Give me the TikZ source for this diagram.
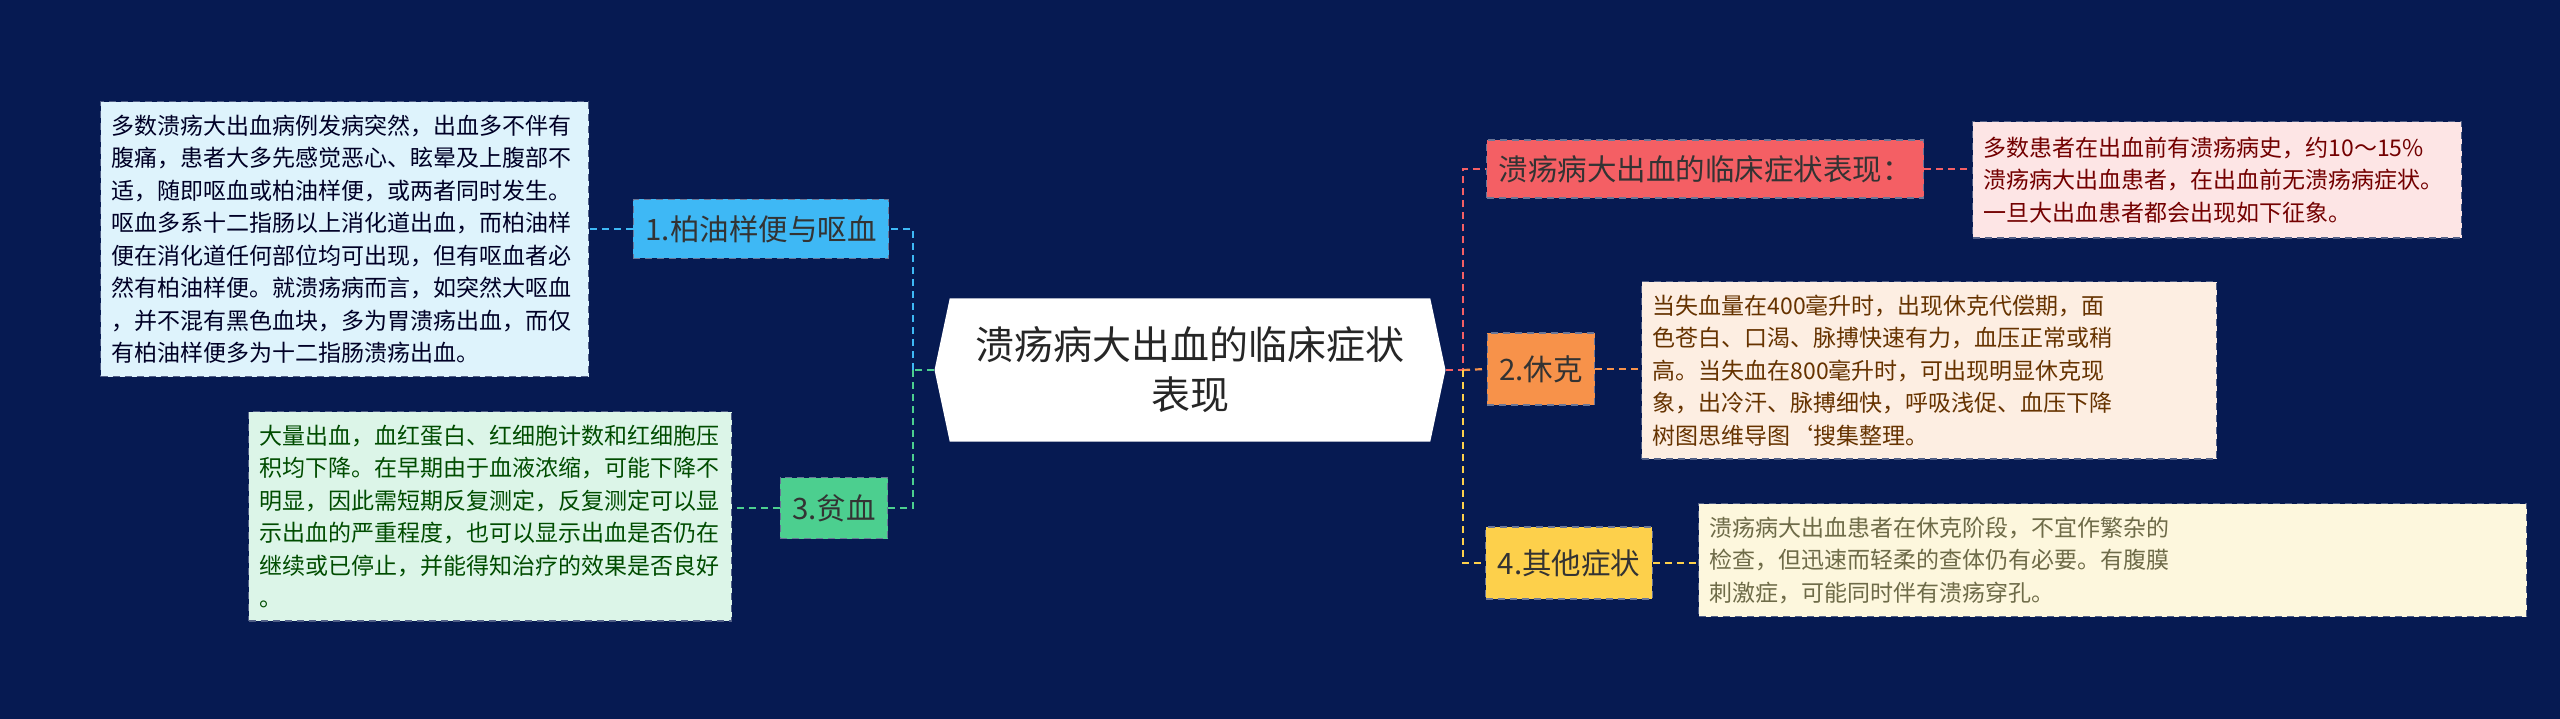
\documentclass[tikz,border=0pt]{standalone}
\usepackage{fontspec}
\setmainfont{Noto Sans CJK SC}
\usetikzlibrary{shapes.symbols}
\definecolor{bg}{RGB}{6,26,82}
\definecolor{cblue}{RGB}{62,184,245}
\definecolor{tblue}{RGB}{222,243,252}
\definecolor{cgreen}{RGB}{76,207,143}
\definecolor{tgreen}{RGB}{220,245,232}
\definecolor{cred}{RGB}{244,95,100}
\definecolor{tred}{RGB}{253,229,229}
\definecolor{corange}{RGB}{247,146,74}
\definecolor{torange}{RGB}{253,238,226}
\definecolor{cyellow}{RGB}{253,208,75}
\definecolor{tyellow}{RGB}{253,247,221}
\tikzset{
  x=1pt,y=1pt,
  dsh/.style={dash pattern=on 7pt off 5pt},
  topic/.style={draw=bg!60!white,dsh,line width=1.2pt,font=\fontsize{29.5}{34}\selectfont,inner xsep=12pt,inner ysep=10pt,text=black!80},
  note/.style={draw=bg!70!white,dsh,line width=1.2pt,font=\fontsize{23}{32.5}\selectfont,align=left,anchor=north west,inner xsep=11pt,inner ysep=13pt},
  link/.style={dsh,line width=2.2pt},
}
\begin{document}
\begin{tikzpicture}
\useasboundingbox[fill=bg] (0,0) rectangle (2560,-719);
\node[signal,signal to=west and east,signal pointer angle=156,fill=white,minimum width=511,minimum height=143,align=center,font=\fontsize{39}{50}\selectfont,inner xsep=20pt,text=black!85] (c) at (1190,-370) {溃疡病大出血的临床症状\\表现};
% left
\node[topic,fill=cblue,minimum height=59] (b1) at (761,-229) {1.柏油样便与呕血};
\node[note,fill=tblue,text=black!75!blue!60!black,text width=466] (n1) at (100,-101) {多数溃疡大出血病例发病突然，出血多不伴有\\腹痛，患者大多先感觉恶心、眩晕及上腹部不\\适，随即呕血或柏油样便，或两者同时发生。\\呕血多系十二指肠以上消化道出血，而柏油样\\便在消化道任何部位均可出现，但有呕血者必\\然有柏油样便。就溃疡病而言，如突然大呕血\\，并不混有黑色血块，多为胃溃疡出血，而仅\\有柏油样便多为十二指肠溃疡出血。};
\node[note,fill=tgreen,text=green!30!black,text width=461] (n3) at (248,-411) {大量出血，血红蛋白、红细胞计数和红细胞压\\积均下降。在早期由于血液浓缩，可能下降不\\明显，因此需短期反复测定，反复测定可以显\\示出血的严重程度，也可以显示出血是否仍在\\继续或已停止，并能得知治疗的效果是否良好\\。};
\node[topic,fill=cgreen,minimum height=61] (b3) at (834,-508) {3.贫血};
% right
\node[topic,fill=cred,minimum height=58] (r0) at (1705,-169) {溃疡病大出血的临床症状表现：};
\node[note,fill=tred,text=red!45!black,text width=467,inner ysep=15pt] (t0) at (1972,-121) {多数患者在出血前有溃疡病史，约10～15\%\\溃疡病大出血患者，在出血前无溃疡病症状。\\一旦大出血患者都会出现如下征象。};
\node[topic,fill=corange,minimum height=72] (r2) at (1541,-369) {2.休克};
\node[note,fill=torange,text=orange!40!black,text width=553] (t2) at (1641,-281) {当失血量在400毫升时，出现休克代偿期，面\\色苍白、口渴、脉搏快速有力，血压正常或稍\\高。当失血在800毫升时，可出现明显休克现\\象，出冷汗、脉搏细快，呼吸浅促、血压下降\\树图思维导图`搜集整理。};
\node[topic,fill=cyellow,minimum height=72] (r4) at (1569,-563) {4.其他症状};
\node[note,fill=tyellow,text=yellow!35!black,text width=806] (t4) at (1698,-503) {溃疡病大出血患者在休克阶段，不宜作繁杂的\\检查，但迅速而轻柔的查体仍有必要。有腹膜\\刺激症，可能同时伴有溃疡穿孔。};
% connectors
\coordinate (lb) at (913,-370);
\coordinate (rb) at (1463,-370);
\draw[link,cgreen] (c.west) -- (lb);
\draw[link,cblue] (lb) |- (b1.east);
\draw[link,cgreen] (lb) |- (b3.east);
\draw[link,cred] (c.east) -- (rb) |- (r0.west);
\draw[link,corange] (rb) -- (r2.west);
\draw[link,cyellow] (rb) |- (r4.west);
\draw[link,cblue] (b1.west) -- (b1.west -| n1.east);
\draw[link,cgreen] (b3.west) -- (b3.west -| n3.east);
\draw[link,cred] (r0.east) -- (r0.east -| t0.west);
\draw[link,corange] (r2.east) -- (r2.east -| t2.west);
\draw[link,cyellow] (r4.east) -- (r4.east -| t4.west);
\end{tikzpicture}
\end{document}
